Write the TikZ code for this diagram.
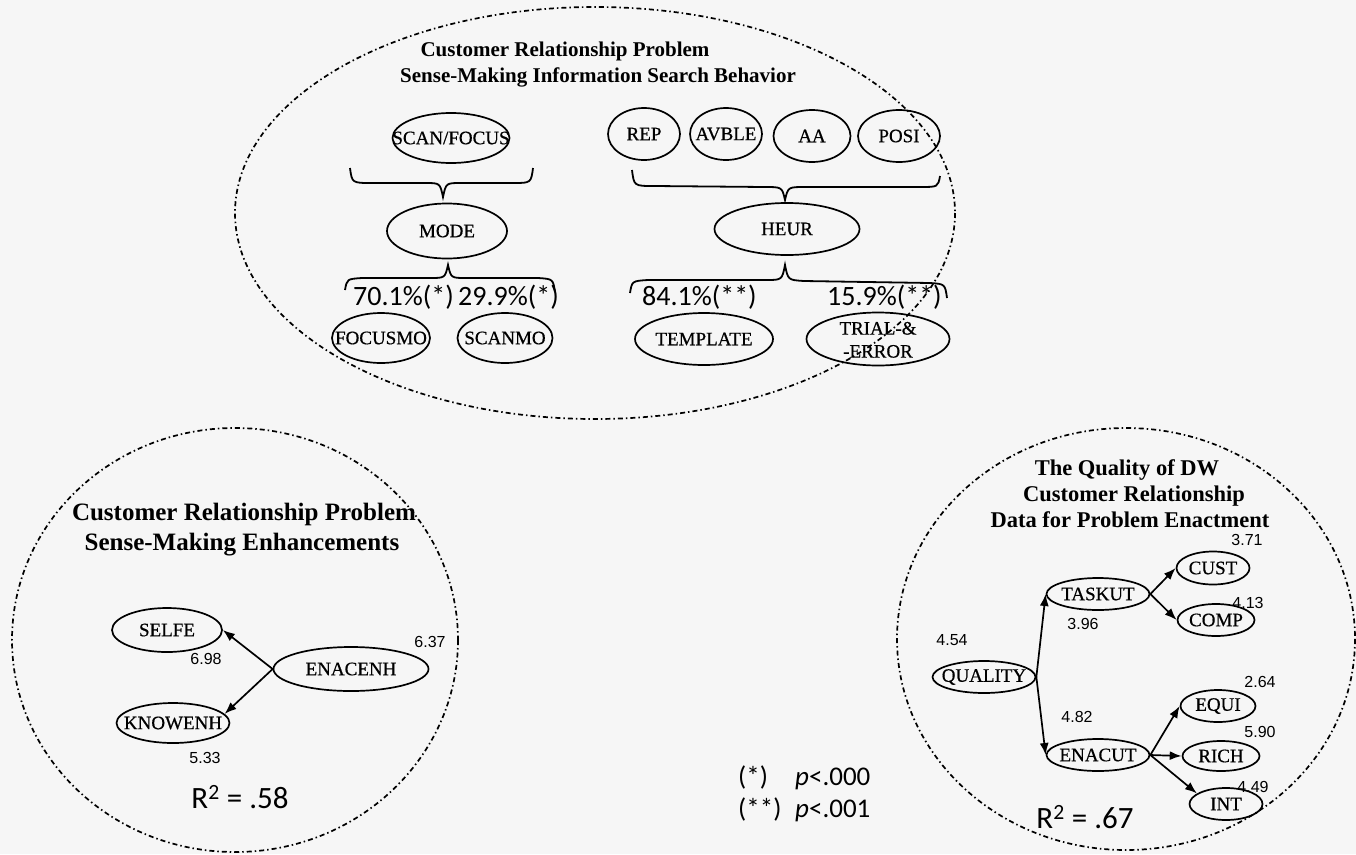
\documentclass[tikz,border=0pt]{standalone}
\usepackage{fontspec}
\setmainfont{Liberation Serif}
\newfontfamily\varfont[FakeBold=0.6]{Liberation Serif}
\newfontfamily\numfont{Liberation Sans}
\newfontfamily\pctfont{Carlito}
\usetikzlibrary{shapes.geometric,arrows.meta}
% label text that does not widen its ellipse
\newcommand{\vlab}[1]{\makebox[0pt]{#1}}
\begin{document}
\begin{tikzpicture}[x=1pt,y=-1pt,
  region/.style={draw,line width=1.7pt,dash pattern=on 5pt off 3pt on 1.5pt off 3pt},
  var/.style={draw,ellipse,line width=1.7pt,inner sep=0pt,font=\varfont\fontsize{19}{22}\selectfont},
  ttl/.style={font=\fontsize{21}{24}\bfseries\selectfont,anchor=base,inner sep=0pt},
  ttlb/.style={font=\fontsize{25}{30}\bfseries\selectfont,anchor=base,inner sep=0pt},
  ttlc/.style={font=\fontsize{22.5}{26}\bfseries\selectfont,anchor=base,inner sep=0pt},
  pct/.style={font=\pctfont\fontsize{28}{30}\selectfont,anchor=base west,inner sep=0pt},
  key/.style={font=\pctfont\fontsize{27}{30}\selectfont,anchor=base west,inner sep=0pt},
  est/.style={font=\numfont\fontsize{16}{18}\selectfont,inner sep=0pt},
  rsq/.style={font=\pctfont\fontsize{31}{33}\selectfont,inner sep=0pt},
  path/.style={line width=1.7pt,-{Latex[length=12pt,width=9pt]}},
  brace/.style={line width=1.8pt}]
\useasboundingbox[fill={rgb,255:red,246;green,246;blue,246}] (0,0) rectangle (1356,854);

% ---------- search behaviour ----------
\draw[region] (595,213) ellipse [x radius=360,y radius=206];
\node[ttl] (t1a) at (565,56) {Customer Relationship Problem};
\node[ttl] (t1b) at (598,82) {Sense-Making Information Search Behavior};

\node[var,minimum width=117pt,minimum height=50pt] (scan) at (451,138) {\vlab{SCAN/FOCUS}};
\node[var,minimum width=72pt,minimum height=52pt] (rep) at (644,134) {\vlab{REP}};
\node[var,minimum width=72pt,minimum height=52pt] (avble) at (726,134) {\vlab{AVBLE}};
\node[var,minimum width=77pt,minimum height=52pt] (aa) at (812,136) {\vlab{AA}};
\node[var,minimum width=82pt,minimum height=52pt] (posi) at (899,136) {\vlab{POSI}};

\draw[brace] (350,168) .. controls (352,183) .. (372,183) -- (425,183)
  .. controls (440,183) .. (443,197) .. controls (446,183) .. (461,183)
  -- (513,183) .. controls (531,183) .. (533,168);
\draw[brace] (632,170) .. controls (634,186) .. (654,186) -- (765,187)
  .. controls (782,187) .. (785,200) .. controls (788,187) .. (805,187)
  -- (920,187) .. controls (938,187) .. (940,176);

\node[var,minimum width=120pt,minimum height=55pt] (mode) at (447,231) {\vlab{MODE}};
\node[var,minimum width=145pt,minimum height=52pt] (heur) at (787,229) {\vlab{HEUR}};

\draw[brace] (345,290) .. controls (347,279) .. (362,278) -- (430,278)
  .. controls (445,278) .. (448,265) .. controls (451,278) .. (466,278)
  -- (538,278) .. controls (553,279) .. (555,292);
\draw[brace] (630,293) .. controls (632,281) .. (648,280) -- (766,280)
  .. controls (782,280) .. (785,265) .. controls (788,280) .. (804,281)
  -- (930,283) .. controls (945,284) .. (947,298);

\node[pct] (p1) at (353,305) {70.1\%(*)};
\node[pct] (p2) at (458,305) {29.9\%(*)};
\node[pct] (p3) at (642,305) {84.1\%(**)};
\node[pct] (p4) at (827,305) {15.9\%(**)};

\node[var,minimum width=98pt,minimum height=50pt] (focusmo) at (381,338) {\vlab{FOCUSMO}};
\node[var,minimum width=95pt,minimum height=50pt] (scanmo) at (505,338) {\vlab{SCANMO}};
\node[var,minimum width=138pt,minimum height=52pt] (template) at (704,339) {\vlab{TEMPLATE}};
\node[var,minimum width=143pt,minimum height=53pt] (trial) at (878,339)
  {\vlab{\smash{\raisebox{-7pt}{\begin{tabular}[c]{@{}c@{}}TRIAL-\&\\[1pt]-ERROR\end{tabular}}}}};

% ---------- enhancements ----------
\draw[region] (235,640) ellipse [x radius=223,y radius=212];
\node[ttlb] (t2a) at (244,520) {Customer Relationship Problem};
\node[ttlb] (t2b) at (242,550) {Sense-Making Enhancements};

\node[var,minimum width=110pt,minimum height=44pt] (selfe) at (167,630) {\vlab{SELFE}};
\node[var,minimum width=155pt,minimum height=44pt] (enacenh) at (351,669) {\vlab{ENACENH}};
\node[var,minimum width=113pt,minimum height=40pt] (knowenh) at (173,723) {\vlab{KNOWENH}};
\draw[path] (enacenh.west) -- (selfe.east);
\draw[path] (enacenh.west) -- (knowenh.10);

\node[est] (e1) at (206,659) {6.98};
\node[est] (e2) at (430,642) {6.37};
\node[est] (e3) at (205,758) {5.33};
\node[rsq] (r1) at (240,797) {R\textsuperscript{2} = .58};

% ---------- data quality ----------
\draw[region] (1126,639) ellipse [x radius=229,y radius=211];
\node[ttlc] (t3a) at (1127,475) {The Quality of DW};
\node[ttlc] (t3b) at (1134,501) {Customer Relationship};
\node[ttlc] (t3c) at (1130,527) {Data for Problem Enactment};

\node[var,minimum width=103pt,minimum height=32pt] (quality) at (984,677) {\vlab{QUALITY}};
\node[var,minimum width=103pt,minimum height=32pt] (taskut) at (1098,594) {\vlab{TASKUT}};
\node[var,minimum width=103pt,minimum height=32pt] (enacut) at (1098,755) {\vlab{ENACUT}};
\node[var,minimum width=73pt,minimum height=33pt] (cust) at (1213,568) {\vlab{CUST}};
\node[var,minimum width=77pt,minimum height=32pt] (comp) at (1216,620) {\vlab{COMP}};
\node[var,minimum width=75pt,minimum height=32pt] (equi) at (1218,706) {\vlab{EQUI}};
\node[var,minimum width=77pt,minimum height=30pt] (rich) at (1221,756) {\vlab{RICH}};
\node[var,minimum width=73pt,minimum height=32pt] (int) at (1226,804) {\vlab{INT}};

\draw[path] (quality.east) -- (taskut.west);
\draw[path] (quality.east) -- (enacut.west);
\draw[path] (taskut.east) -- (cust.west);
\draw[path] (taskut.east) -- (comp.west);
\draw[path] (enacut.east) -- (equi.west);
\draw[path] (enacut.east) -- (rich.west);
\draw[path] (enacut.east) -- (int.160);

\node[est] (e4) at (1247,540) {3.71};
\node[est] (e5) at (1248,603) {4.13};
\node[est] (e6) at (1083,624) {3.96};
\node[est] (e7) at (952,640) {4.54};
\node[est] (e8) at (1260,682) {2.64};
\node[est] (e9) at (1077,717) {4.82};
\node[est] (e10) at (1260,732) {5.90};
\node[est] (e11) at (1253,787) {4.49};
\node[rsq] (r2) at (1085,817) {R\textsuperscript{2} = .67};

% ---------- significance key ----------
\node[key] (k1) at (738,785) {(*)};
\node[key] (k2) at (795,785) {\textit{p}<.000};
\node[key] (k3) at (738,817) {(**)};
\node[key] (k4) at (795,817) {\textit{p}<.001};
\end{tikzpicture}
\end{document}
